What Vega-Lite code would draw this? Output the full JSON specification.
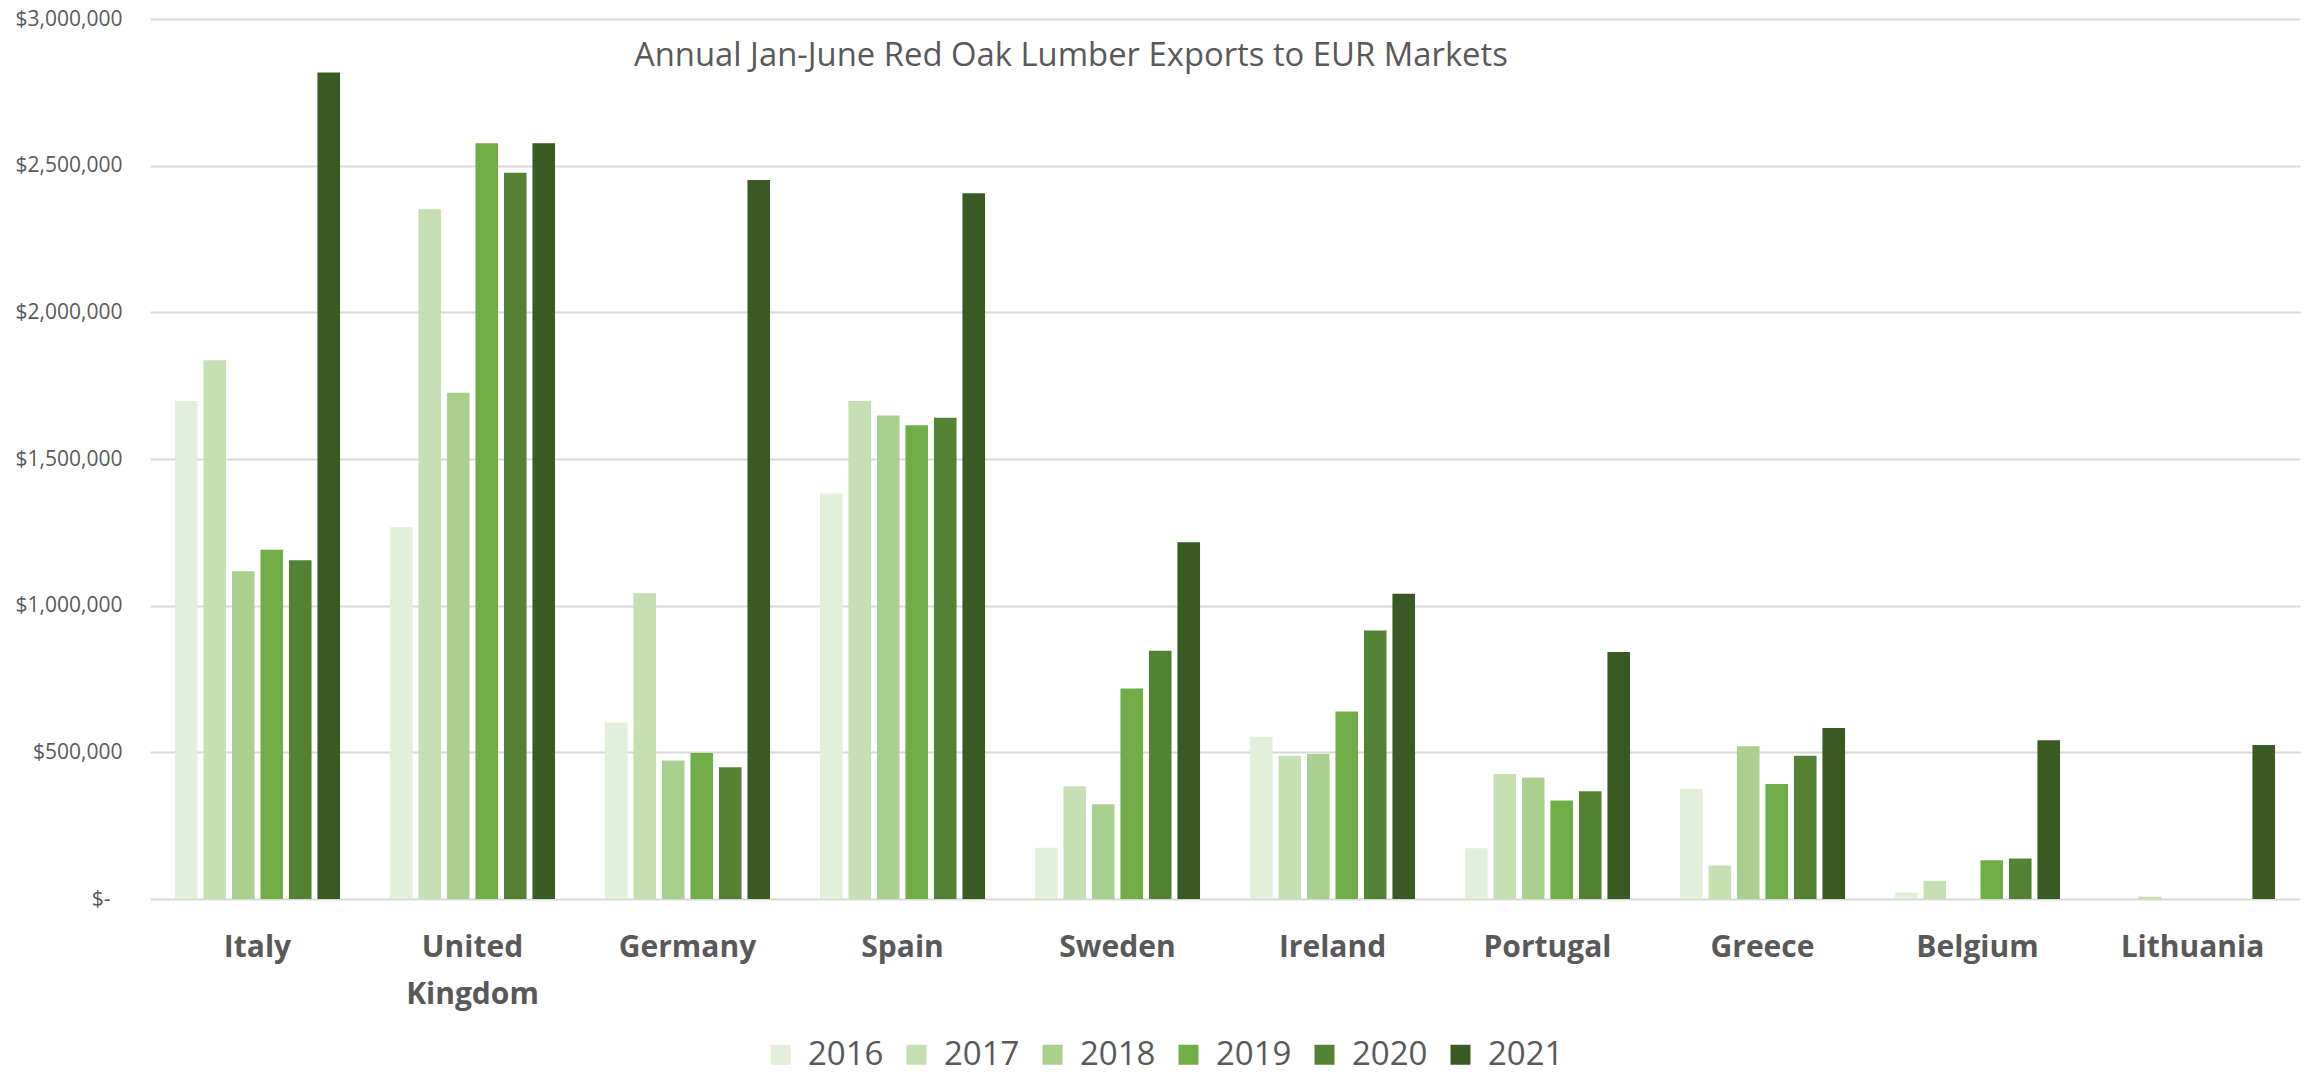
{
  "$schema": "https://vega.github.io/schema/vega-lite/v6.json",
  "width": 2150,
  "height": 880,
  "autosize": {"type": "none"},
  "padding": {"left": 150, "top": 19, "right": 8, "bottom": 178},
  "background": "white",
  "title": {
    "text": "Annual Jan-June Red Oak Lumber Exports to EUR Markets",
    "anchor": "start",
    "frame": "group",
    "orient": "top",
    "baseline": "top",
    "dx": 484,
    "dy": 69,
    "font": "Open Sans",
    "fontSize": 32.8,
    "fontWeight": "normal",
    "color": "#595959"
  },
  "config": {
    "view": {"stroke": null},
    "font": "Open Sans"
  },
  "data": {
    "values": [
      {"country": "Italy", "year": "2016", "value": 1698000},
      {"country": "Italy", "year": "2017", "value": 1837000},
      {"country": "Italy", "year": "2018", "value": 1117000},
      {"country": "Italy", "year": "2019", "value": 1191000},
      {"country": "Italy", "year": "2020", "value": 1155000},
      {"country": "Italy", "year": "2021", "value": 2818000},
      {"country": "United Kingdom", "year": "2016", "value": 1267000},
      {"country": "United Kingdom", "year": "2017", "value": 2351000},
      {"country": "United Kingdom", "year": "2018", "value": 1726000},
      {"country": "United Kingdom", "year": "2019", "value": 2576000},
      {"country": "United Kingdom", "year": "2020", "value": 2476000},
      {"country": "United Kingdom", "year": "2021", "value": 2576000},
      {"country": "Germany", "year": "2016", "value": 602000},
      {"country": "Germany", "year": "2017", "value": 1042000},
      {"country": "Germany", "year": "2018", "value": 472000},
      {"country": "Germany", "year": "2019", "value": 498000},
      {"country": "Germany", "year": "2020", "value": 449000},
      {"country": "Germany", "year": "2021", "value": 2451000},
      {"country": "Spain", "year": "2016", "value": 1382000},
      {"country": "Spain", "year": "2017", "value": 1698000},
      {"country": "Spain", "year": "2018", "value": 1648000},
      {"country": "Spain", "year": "2019", "value": 1615000},
      {"country": "Spain", "year": "2020", "value": 1641000},
      {"country": "Spain", "year": "2021", "value": 2406000},
      {"country": "Sweden", "year": "2016", "value": 175000},
      {"country": "Sweden", "year": "2017", "value": 384000},
      {"country": "Sweden", "year": "2018", "value": 323000},
      {"country": "Sweden", "year": "2019", "value": 718000},
      {"country": "Sweden", "year": "2020", "value": 846000},
      {"country": "Sweden", "year": "2021", "value": 1216000},
      {"country": "Ireland", "year": "2016", "value": 553000},
      {"country": "Ireland", "year": "2017", "value": 488000},
      {"country": "Ireland", "year": "2018", "value": 494000},
      {"country": "Ireland", "year": "2019", "value": 639000},
      {"country": "Ireland", "year": "2020", "value": 915000},
      {"country": "Ireland", "year": "2021", "value": 1041000},
      {"country": "Portugal", "year": "2016", "value": 173000},
      {"country": "Portugal", "year": "2017", "value": 426000},
      {"country": "Portugal", "year": "2018", "value": 414000},
      {"country": "Portugal", "year": "2019", "value": 336000},
      {"country": "Portugal", "year": "2020", "value": 367000},
      {"country": "Portugal", "year": "2021", "value": 842000},
      {"country": "Greece", "year": "2016", "value": 375000},
      {"country": "Greece", "year": "2017", "value": 114000},
      {"country": "Greece", "year": "2018", "value": 521000},
      {"country": "Greece", "year": "2019", "value": 392000},
      {"country": "Greece", "year": "2020", "value": 488000},
      {"country": "Greece", "year": "2021", "value": 583000},
      {"country": "Belgium", "year": "2016", "value": 22000},
      {"country": "Belgium", "year": "2017", "value": 62000},
      {"country": "Belgium", "year": "2018", "value": 0},
      {"country": "Belgium", "year": "2019", "value": 132000},
      {"country": "Belgium", "year": "2020", "value": 138000},
      {"country": "Belgium", "year": "2021", "value": 541000},
      {"country": "Lithuania", "year": "2016", "value": 0},
      {"country": "Lithuania", "year": "2017", "value": 8000},
      {"country": "Lithuania", "year": "2018", "value": 0},
      {"country": "Lithuania", "year": "2019", "value": 0},
      {"country": "Lithuania", "year": "2020", "value": 0},
      {"country": "Lithuania", "year": "2021", "value": 525000}
    ]
  },
  "mark": {"type": "bar"},
  "encoding": {
    "x": {
      "field": "country",
      "type": "nominal",
      "sort": null,
      "scale": {"paddingInner": 0, "paddingOuter": 0},
      "axis": {
        "title": null,
        "labelAngle": 0,
        "ticks": false,
        "domain": false,
        "labelFont": "Open Sans",
        "labelFontSize": 30,
        "labelFontWeight": "bold",
        "labelColor": "#595959",
        "labelPadding": 33,
        "labelLineHeight": 47,
        "labelBaseline": "top",
        "labelExpr": "datum.label == 'United Kingdom' ? ['United', 'Kingdom'] : datum.label"
      }
    },
    "xOffset": {
      "field": "year",
      "type": "nominal",
      "scale": {"paddingInner": 0.207, "paddingOuter": 0.876}
    },
    "y": {
      "field": "value",
      "type": "quantitative",
      "scale": {"domain": [0, 3000000], "nice": false},
      "axis": {
        "title": null,
        "values": [0, 500000, 1000000, 1500000, 2000000, 2500000, 3000000],
        "ticks": false,
        "domain": false,
        "grid": true,
        "gridColor": "#d9d9d9",
        "gridWidth": 2,
        "labelFont": "Open Sans",
        "labelFontSize": 21,
        "labelColor": "#595959",
        "labelPadding": {"condition": {"test": "datum.value == 0", "value": 40}, "value": 28},
        "labelExpr": "datum.value == 0 ? '$-' : '$' + format(datum.value, ',')"
      }
    },
    "color": {
      "field": "year",
      "type": "nominal",
      "scale": {
        "domain": ["2016", "2017", "2018", "2019", "2020", "2021"],
        "range": ["#E2EFDA", "#C6E0B4", "#A9D08E", "#70AD47", "#548235", "#3A5A24"]
      },
      "legend": {
        "title": null,
        "orient": "none",
        "direction": "horizontal",
        "legendX": 614,
        "legendY": 1019,
        "symbolType": "square",
        "symbolSize": 400,
        "symbolStrokeWidth": 0,
        "labelFont": "Open Sans",
        "labelFontSize": 33,
        "labelColor": "#595959",
        "labelOffset": 11,
        "columnPadding": 16
      }
    }
  }
}
